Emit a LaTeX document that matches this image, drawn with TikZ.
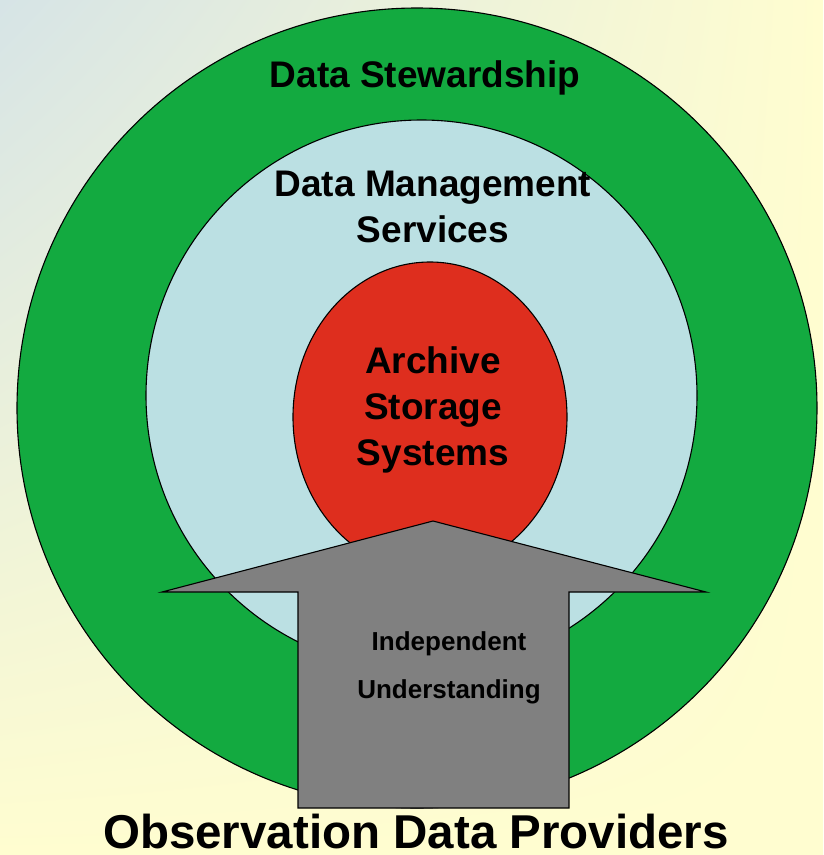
\documentclass[tikz,border=0pt]{standalone}
\usepackage{fontspec}
\setmainfont{Liberation Sans}
\usetikzlibrary{shadings}

\definecolor{bgblue}{RGB}{214,228,230}
\definecolor{bgyellow}{RGB}{255,253,208}
\definecolor{stewgreen}{RGB}{19,170,64}
\definecolor{servblue}{RGB}{187,224,227}
\definecolor{archred}{RGB}{222,46,30}
\definecolor{flowgray}{RGB}{128,128,128}

\begin{document}
\begin{tikzpicture}[
    x=1pt, y=-1pt,
    ring/.style={draw, line width=1.1pt},
    bigtext/.style={font=\fontsize{37}{46}\selectfont\bfseries, inner sep=0pt, align=center},
    smalltext/.style={font=\fontsize{26}{48}\selectfont\bfseries, inner sep=0pt, align=center}
]
    % page and background
    \useasboundingbox (0,0) rectangle (823,855);
    \shade[upper left=bgblue, upper right=bgyellow, lower left=bgyellow, lower right=bgyellow]
        (0,0) rectangle (823,855);

    % the three layers
    \draw[ring, fill=stewgreen] (417,408) circle[radius=400];
    \draw[ring, fill=servblue] (421.5,395.5) circle[radius=275.5];
    \draw[ring, fill=archred] (430,417) ellipse[x radius=137, y radius=155];

    % the arrow from the providers
    \draw[line width=1.1pt, fill=flowgray]
        (433,521) -- (706,592) -- (569,592) -- (569,808)
        -- (298,808) -- (298,592) -- (162,592) -- cycle;

    % labels
    \node[bigtext, anchor=base] (stewardship) at (425,87) {Data Stewardship};
    \node[bigtext] (services) at (433,207) {Data Management\\Services};
    \node[bigtext] (archive) at (433,410) {Archive\\Storage\\Systems};
    \node[smalltext] (understanding) at (449,668) {Independent\\Understanding};
    \node[font=\fontsize{47.5}{57}\selectfont\bfseries, inner sep=0pt, anchor=base]
        (providers) at (416,848) {Observation Data Providers};
\end{tikzpicture}
\end{document}
